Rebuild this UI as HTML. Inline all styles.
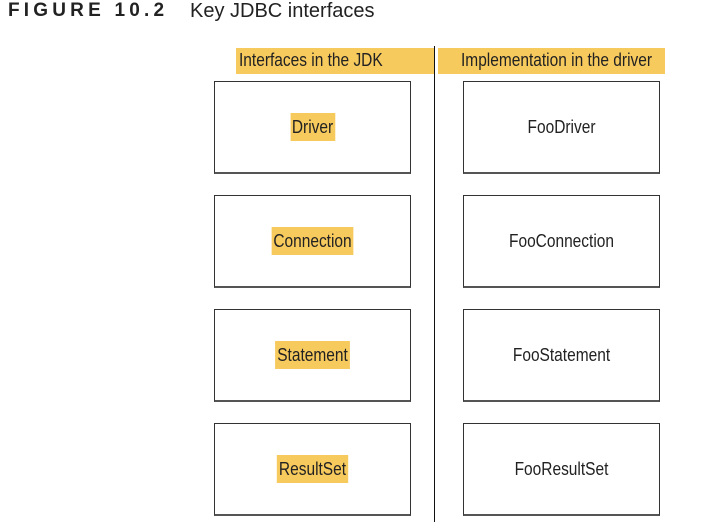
<!DOCTYPE html>
<html><head><style>
body{margin:0;width:724px;height:522px;background:#fff;position:relative;font-family:"Liberation Sans",sans-serif;overflow:hidden}
.a{position:absolute}
.box{position:absolute;border:1px solid #333;border-bottom:2px solid #555;box-sizing:border-box;width:197px;height:93px}
.lbl{position:absolute;font-size:18px;color:#222;white-space:nowrap;transform:scaleX(0.86);transform-origin:center}
.hl{background:#f7ca5e;padding:4px 2px}
</style></head><body>
<div class="a" style="left:8px;top:0px;font-size:19px;font-weight:bold;letter-spacing:4.2px;color:#222">FIGURE 10.2</div>
<div class="a" style="left:190px;top:0px;font-size:20px;color:#222">Key JDBC interfaces</div>
<div class="a" style="left:236px;top:48px;width:429px;height:26px;background:#f7ca5e"></div>
<div class="a" style="left:434px;top:46px;width:1px;height:476px;background:#111"></div>
<div class="a" style="left:435px;top:48px;width:3px;height:26px;background:#fff"></div>
<div class="lbl" style="left:239px;top:50px;transform-origin:left">Interfaces in the JDK</div>
<div class="lbl" style="left:461px;top:50px;transform-origin:left">Implementation in the driver</div>

<div class="box" style="left:214px;top:81px"></div><div class="box" style="left:463px;top:81px"></div>
<div class="box" style="left:214px;top:195px"></div><div class="box" style="left:463px;top:195px"></div>
<div class="box" style="left:214px;top:309px"></div><div class="box" style="left:463px;top:309px"></div>
<div class="box" style="left:214px;top:423px"></div><div class="box" style="left:463px;top:423px"></div>

<div class="lbl" style="left:214px;top:117px;width:197px;text-align:center"><span class="hl">Driver</span></div>
<div class="lbl" style="left:214px;top:231px;width:197px;text-align:center"><span class="hl">Connection</span></div>
<div class="lbl" style="left:214px;top:345px;width:197px;text-align:center"><span class="hl">Statement</span></div>
<div class="lbl" style="left:214px;top:459px;width:197px;text-align:center"><span class="hl">ResultSet</span></div>
<div class="lbl" style="left:463px;top:117px;width:197px;text-align:center">FooDriver</div>
<div class="lbl" style="left:463px;top:231px;width:197px;text-align:center">FooConnection</div>
<div class="lbl" style="left:463px;top:345px;width:197px;text-align:center">FooStatement</div>
<div class="lbl" style="left:463px;top:459px;width:197px;text-align:center">FooResultSet</div>
</body></html>
